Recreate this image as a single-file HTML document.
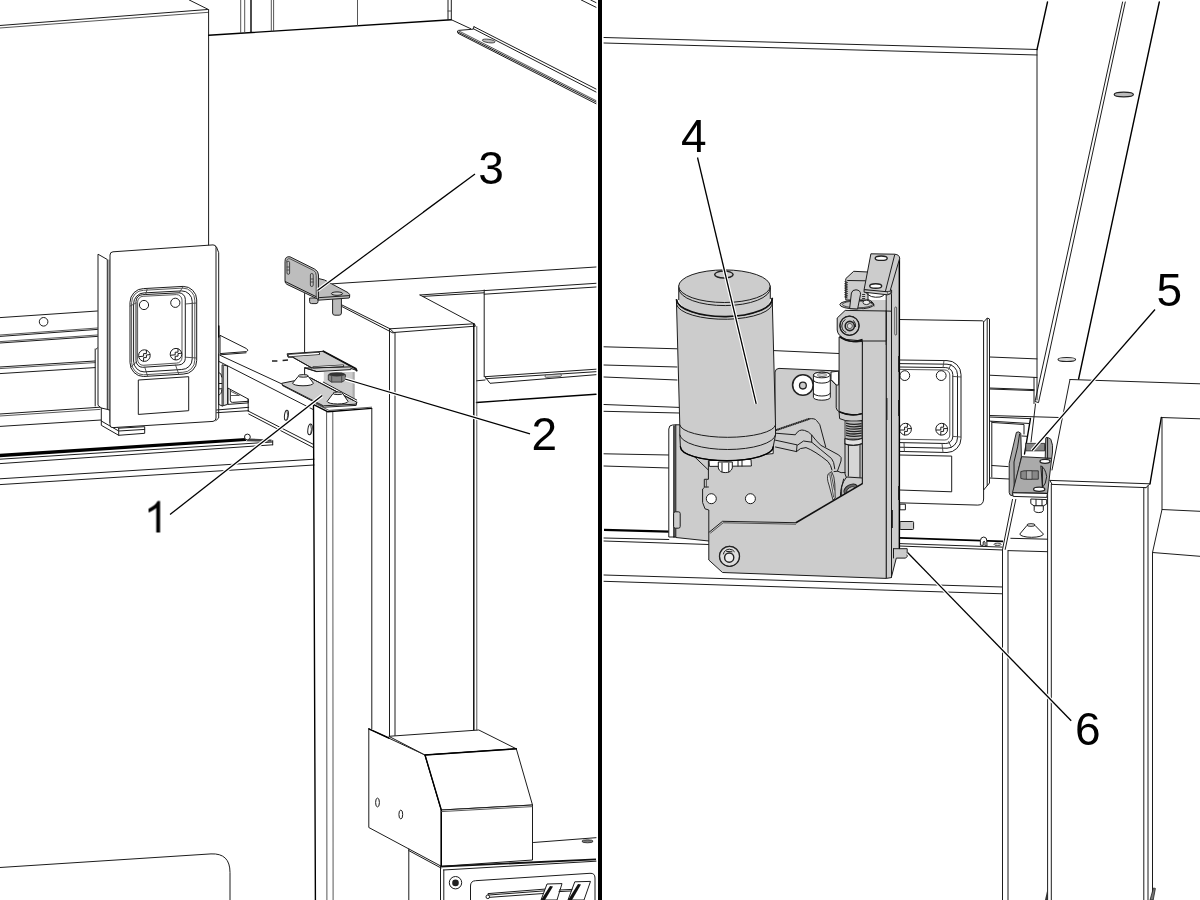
<!DOCTYPE html>
<html>
<head>
<meta charset="utf-8">
<title>Diagram</title>
<style>
html,body{margin:0;padding:0;background:#fff;}
body{width:1200px;height:900px;overflow:hidden;font-family:"Liberation Sans",sans-serif;}
svg{display:block;}
.l{stroke:#1c1c1c;stroke-width:1;fill:none;stroke-linecap:round;stroke-linejoin:round;}
.t{stroke:#444;stroke-width:.9;fill:none;stroke-linecap:round;stroke-linejoin:round;}
.k{stroke:#000;stroke-width:1.4;fill:none;stroke-linecap:round;stroke-linejoin:round;}
.w{fill:#fff;stroke:#1c1c1c;stroke-width:1;stroke-linejoin:round;}
.g{fill:#ccc;stroke:#1c1c1c;stroke-width:1;stroke-linejoin:round;}
.d{fill:#bbb;stroke:#222;stroke-width:1;stroke-linejoin:round;}
.ld{stroke:#000;stroke-width:1.3;fill:none;}
text{font-family:"Liberation Sans",sans-serif;font-size:46px;fill:#000;}
</style>
</head>
<body>
<svg width="1200" height="900" viewBox="0 0 1200 900">
<rect x="0" y="0" width="1200" height="900" fill="#fff"/>

<!-- ================= LEFT PANEL ================= -->
<g id="left">

<!-- big box top-left -->
<path class="l" d="M0 25.5 L207.5 9.5 M189.3 0 L208 9.3"/>
<path class="t" d="M0 28 L208.5 12.3"/>
<path class="l" d="M208.6 9.5 V245.5"/>
<!-- back wall line -->
<path class="k" d="M208.7 35.3 L451.3 19.7"/>
<path class="t" d="M240.7 0 V33 M244.7 0 V32.8 M271.3 0 V31 M273.6 0 V30.9 M357.5 0 V25.5"/>
<path class="k" d="M251 0 V32.4"/>
<path class="l" d="M448 0 V19.7 M451.3 0 V19.7"/>
<path class="t" d="M448 11 H451.3"/>
<!-- diagonal rail top right -->
<path class="l" d="M451.3 19.7 L470.7 28.7"/>
<path class="l" d="M474 26.7 L596 89 M473.3 28.7 L596 92 M474 26.7 L473.3 28.7"/>
<path class="l" d="M473 29.2 L458.5 30.4 Q456.8 30.8 457.6 32 L458 33.3 L596 103.7 M458 32 L596 102"/>
<path class="t" d="M459 31 L596 100.6"/>
<ellipse cx="488.7" cy="41" rx="6.5" ry="1.7" fill="#bbb" stroke="#333" stroke-width=".8" transform="rotate(8 488.7 41)"/>
<path class="l" d="M581.3 0 L596 7.3 M590.7 0 L596 2.6"/>
<!-- rear panel right -->
<path class="l" d="M332.5 283.8 L596 267"/>
<path class="l" d="M420 295 L483.5 290.6 M423 296.4 L484 292.8 M420 295 L474.5 324"/>
<path class="l" d="M484.2 290 V376.7 M484.2 290.6 L596 283.3 M484.2 294.2 L596 287"/>
<path class="l" d="M485 376.7 L596 369.2 M485 376.7 L490 383.3 L596 374.7 M485.8 378.7 L596 371.7"/>
<path class="l" d="M476.5 380.8 L485 380"/>
<path class="k" d="M476.5 402.5 L596 394.2"/>
<rect x="545" y="374.4" width="16.5" height="2.6" rx="1.3" fill="#ccc" stroke="#333" stroke-width=".7" transform="rotate(-3.8 553.3 375.8)"/>
<!-- tall column -->
<path class="l" d="M390 328.8 L473.8 323.8 Q475.5 324 475.2 326 M393.8 332.5 L475 326.2 M390 328.8 L393.8 332.5"/>
<path class="l" d="M389.5 329 V736 M395 332.5 V735.8"/>
<path class="k" d="M473.8 324 V730.2"/>
<path class="t" d="M476.8 326.5 V731"/>

<!-- left rails behind bracket -->
<path class="l" d="M0 317.6 L97.4 311"/>
<circle cx="43.6" cy="321.8" r="4.3" class="w"/>
<path class="t" d="M0 335 L97.4 328 M0 341.6 L97.4 335"/>
<path class="l" d="M0 336.4 L97.4 329.4 M0 343 L97.4 336.4"/>
<path class="l" d="M0 367 L95 361 M0 373.6 L95 367.6"/>
<path class="t" d="M0 368.6 L95 362.6"/>
<path class="l" d="M95.2 349 V406 M96.3 349 L97.4 348"/>
<path class="l" d="M0 414 L100 407.2 M0 426.4 L101 420"/>
<path class="t" d="M0 416 L100 409.4"/>
<!-- thick lower rail -->
<path d="M0 453.8 L246 438 L246 440.9 L0 457.3 Z" fill="#000"/>
<path class="l" d="M0 459.2 L272.7 442 M0 463.6 L272.7 444.8 M272.7 440.6 V444.8"/>
<path class="l" d="M0 478.8 L314 459.2 M0 484.6 L314 465"/>
<!-- left panel lower rounded shape -->
<path class="l" d="M0 867.5 L211 853.9 Q230 853 230 872.5 V900"/>
<!-- L-BG3 -->

<!-- bracket side flange -->
<path class="w" d="M98 254.2 L107.3 259.5 V410.7 L101.3 408 L98 405.3 Z"/>
<path class="w" d="M101.3 408 V425.3 L118.7 435.3 L144.7 433.3 V426.7 L118.7 428.2 L110 423 V410 Z"/>
<path class="l" d="M118.7 428.2 V435.3 M101.3 421 L118.7 431 L144.7 429.4"/>
<path class="t" d="M109 260 V410"/>
<!-- front plate -->
<path class="w" d="M110 255 Q110 252 113 251.8 L213 244.9 Q216 244.8 216 247.5 V418 Q216 421 213 421.4 L113 427.6 Q110 427.8 110 425 Z"/>
<path class="l" d="M216.5 247 L218.7 252.7 V418 L216 420.5"/>
<!-- window -->
<path class="l" d="M130 302 A13.5 13.5 0 0 1 143.5 288.6 L183.2 286.4 A13.5 13.5 0 0 1 196.7 299.9 V360.6 A13.5 13.5 0 0 1 183.2 374.1 L143.5 376.5 A13.5 13.5 0 0 1 130 363 Z"/>
<path class="t" d="M131.6 302.4 A12 12 0 0 1 143.6 290.3 L182.8 288.1 A12 12 0 0 1 194.8 300.1 V360.2 A12 12 0 0 1 182.8 372.3 L143.6 374.8 A12 12 0 0 1 131.6 362.8 Z"/>
<path class="l" d="M133.6 303.4 A10.5 10.5 0 0 1 144.1 292.9 L181.7 290.9 A10.5 10.5 0 0 1 192.2 301.4 V358.8 A10.5 10.5 0 0 1 181.7 369.5 L144.1 371.9 A10.5 10.5 0 0 1 133.6 361.4 Z"/>
<path class="l" d="M136 301.2 A6.5 6.5 0 0 1 142.5 294.7 L178.8 292.8 A6.5 6.5 0 0 1 185.3 299.3 V358.4 A6.5 6.5 0 0 1 178.8 364.9 L142.5 367.3 A6.5 6.5 0 0 1 136 360.8 Z"/>
<path class="t" d="M137.6 301.8 A5.5 5.5 0 0 1 143.1 296.3 L176.5 294.6 A5.5 5.5 0 0 1 182 300.1 V357.6 A5.5 5.5 0 0 1 176.5 363.1 L143.1 365.3 A5.5 5.5 0 0 1 137.6 359.8 Z"/>
<path class="t" d="M147.3 288.6 L145.6 294.6 M183.3 286.6 L179 292.8 M196.6 303 L185.3 304 M130.2 306 L136 303 M196.6 358 L185.3 357.2 M178.8 374.2 L175.5 365 M147.6 376.2 L144.8 367.2 M130.8 367 L136.4 362"/>
<circle cx="144" cy="305" r="4.6" class="w"/>
<circle cx="175.3" cy="302.8" r="4.6" class="w"/>
<g id="scrA">
<circle cx="144.4" cy="355.6" r="5.8" class="w"/>
<path class="l" d="M139.4 356.6 L143.6 356.2 V353.6 H146.4 V350.4 M149.8 354.6 L146.4 355 V357.6 H143.6 V361"/>
</g>
<g>
<circle cx="176" cy="354.2" r="5.8" class="w"/>
<path class="l" d="M171 355.2 L175.2 354.8 V352.2 H178 V349 M181.4 353.2 L178 353.6 V356.2 H175.2 V359.6"/>
</g>
<!-- label rect -->
<path class="l" d="M138.7 380 L188.7 376.7 V410.7 L138.7 414.4 Z"/>
<!-- L-BRACKET2 -->

<!-- tab flange at right of bracket -->
<path class="w" d="M220 335.3 L246.5 348.6 Q249.3 350.4 246.5 351.6 L220 353.6 Z"/>
<path class="l" d="M220 354.8 L246 352.8"/>
<path class="k" d="M218.8 326 V337"/>
<!-- left vertical rails between bracket & beam -->
<path class="l" d="M218.7 354 V404.4"/>
<path d="M222.1 364.8 L227.6 366 V404.4 L222.1 406 Z" fill="#e4e4e4" stroke="#1c1c1c" stroke-width="1"/>
<path class="t" d="M223.4 366 V405"/>
<path class="l" d="M218.8 372.4 Q221.6 373 221.8 377 M218.8 383.5 H221.8 M218.8 388.8 H221.8 M218.8 395 Q221.6 394.6 221.8 390 M218.8 404.4 L222.1 406"/>
<path class="l" d="M216.7 410 L248.7 407.3 M216.7 412.7 L248.7 410.7"/>
<!-- small angle bracket -->
<path class="w" d="M228 388.1 L248.2 399 V402.9 L228 404.4 Z"/>
<path class="l" d="M248.2 399 V411.4 M230.3 389.7 V400.3 Q230.4 402.6 232.6 402.4 L248.2 401.3"/>
<path class="t" d="M231 395.5 H239 M231 391.4 L239 395.4"/>
<!-- beam -->
<path class="l" d="M220 355.3 L282 384 M218.7 361.3 L312.7 409.3 M248.7 411.3 L312.7 444 M248.7 414 L312.7 447.3"/>
<ellipse cx="286.4" cy="415.3" rx="1.9" ry="5" class="w" transform="rotate(8 286.4 415.3)"/>
<ellipse cx="310" cy="429.3" rx="2.1" ry="5.4" class="w" transform="rotate(8 310 429.3)"/>
<path class="t" d="M287 411 Q288.6 415 287 420 M310.6 424.6 Q312.4 429 310.6 434.4"/>
<!-- rail end bolt -->
<circle cx="247.4" cy="437" r="2.9" class="w"/>
<path d="M249 438.4 L271.5 439.6 L271.8 441.8 L246 441.2 Z" fill="#444"/>
<!-- small column -->
<path class="k" d="M313.5 405.5 L315.4 900"/>
<path class="t" d="M326.6 411.6 L326.9 900 M332.8 411.4 L333.1 900"/>
<path class="k" d="M314.2 404.8 L327.5 411.7 L371.6 408.4"/>
<path class="t" d="M316 404 L329 410.4 L371.6 407.2"/>
<!-- vertical guide line -->
<path class="l" d="M304.6 293.5 V352.6 M304.6 367.6 V375"/>
<!-- dashes -->
<path d="M272 361 H277.4 M282.6 360.5 L288 360" stroke="#222" stroke-width="1.5" fill="none"/>
<!-- plate 1 -->
<path class="g" d="M281.7 383.3 L310 377.6 L356.8 402.2 L355.8 404.2 L323.4 405.8 L282.5 385 Z"/>
<path class="l" d="M282.5 385.6 L324.2 407.2 L356.2 405.4 L356.8 402.2"/>
<!-- vertical tab behind nut -->
<path d="M323.8 372.1 H354.6 V398.5 L323.8 381.8 Z" fill="#ccc"/>
<path d="M352.6 372.1 H354.6 V398.5 L352.6 397.4 Z" fill="#aaa"/>
<path class="l" d="M323.3 382.1 L356.7 400 M311.5 378.4 L353.4 400.4"/>
<!-- nut -->
<path d="M328.3 375 L331.7 373.3 L341.7 373 L345.4 374.6 V380 L341.7 382.1 H331.7 L328.3 380 Z" fill="#888" stroke="#222" stroke-width=".8"/>
<ellipse cx="336.8" cy="374.4" rx="8.4" ry="2" fill="#333"/>
<path class="t" d="M331.7 375.6 V382 M341.7 375.6 V382"/>
<!-- cones -->
<path class="w" d="M298.4 376.2 L292.6 383.2 A10.4 2.6 0 0 0 313.4 383.2 L308.2 376.2 Z"/>
<ellipse cx="303.3" cy="375.9" rx="4.9" ry="1.3" fill="#ddd" stroke="#222" stroke-width="1"/>
<path class="w" d="M333 393.6 L327.2 401.4 A10.4 2.6 0 0 0 348 401.4 L342.8 393.6 Z"/>
<ellipse cx="337.9" cy="393.3" rx="4.9" ry="1.3" fill="#ddd" stroke="#222" stroke-width="1"/>
<!-- upper slotted plate -->
<path class="g" d="M287.1 353.8 L323.3 351.3 L355.8 368.7 L356.6 370.4 L350.8 368.4 L350.8 369.6 L316.7 371.6 L305 367.9 L311.7 367.9 L292.9 357.3 L288 357.2 Z"/>
<path d="M323.3 351.3 L355.8 368.7 L356.7 370.6" stroke="#111" stroke-width="1.8" fill="none" stroke-linecap="round"/>
<path d="M289.2 355.5 L318.6 353.6" stroke="#222" stroke-width="3" stroke-linecap="round" fill="none"/>
<path d="M289.4 355.5 L318.4 353.6" stroke="#fff" stroke-width="1.5" stroke-linecap="round" fill="none"/>
<path d="M313.6 367.4 L343 365.7" stroke="#222" stroke-width="2.4" stroke-linecap="round" fill="none"/>
<path d="M313.8 367.4 L342.8 365.7" stroke="#fff" stroke-width=".9" stroke-linecap="round" fill="none"/>
<path class="l" d="M292.9 357.3 L311.7 367.9 L350.8 366.9 M305.2 368 L316.7 371.6"/>
<!-- bracket 3 -->
<g id="br3">
<path class="d" d="M309.6 298 H318 V301.6 Q318 303.6 316 303.6 H311.6 Q309.6 303.6 309.6 301.6 Z" />
<path class="d" d="M332.6 298 H341.4 V313 Q341.4 315.2 339.2 315.2 H334.8 Q332.6 315.2 332.6 313 Z"/>
<path d="M318.5 278.5 L324.5 280 L348 292.6 Q350.6 294.4 349.6 297 L349.2 298 L318 300.2 Z" fill="#bdbdbd" stroke="#222" stroke-width="1"/>
<path class="l" d="M319.5 297.6 L349.4 295.6"/>
<ellipse cx="337" cy="293.6" rx="5.6" ry="1.7" fill="#d4d4d4" stroke="#222" stroke-width="1"/>
<path d="M285 261.5 Q285 256 290 256.8 L314.5 269 Q318.5 271 318.5 275 V299.5 L315.5 298 L287 284.4 Q285 283.4 285 281 Z" fill="#bdbdbd" stroke="#222" stroke-width="1"/>
<path class="t" d="M286.6 262 Q286.6 258 290 258.8 L313.4 270.4 Q316.2 272 316.2 275.4 V298.2"/>
<path class="l" d="M285.4 281.6 L316 296.6"/>
<rect x="287" y="261.3" width="2.6" height="13" rx="1.3" fill="#c4c4c4" stroke="#222" stroke-width=".8"/>
<rect x="310.4" y="273.5" width="2.8" height="13" rx="1.4" fill="#c4c4c4" stroke="#222" stroke-width=".8"/>
<path class="t" d="M287 267 H289.6 M310.4 279 H313.2 M310.4 282 H313.2 M287 270 H289.6"/>
</g>
<path class="l" d="M342 305 L390 328.8 M342 306.6 L393 333"/>
<!-- L-PARTS2 -->

<!-- far-left verticals -->

<!-- box -->
<path class="l" d="M371.8 408.6 V728.6"/>
<path class="w" d="M368.8 728.8 L425 755 L441.3 810 V866.3 L368.8 827.5 Z"/>
<path class="w" d="M388.8 736.3 L478.8 730 L516.3 748.8 L425 755 Z"/>
<path class="w" d="M425 755 L516.3 748.8 L532.5 805 L441.3 810 Z"/>
<path class="w" d="M441.3 810 L532.5 805 V860 L441.3 866.3 Z"/>
<path class="k" d="M368.8 728.8 L388.8 738 M425 755 L516.3 748.8 M425 755 L441.3 810 V866"/>
<path class="t" d="M441.3 811.6 L532.5 806.6"/>
<ellipse cx="377.5" cy="802.5" rx="1.9" ry="4.4" class="w"/>
<ellipse cx="400.8" cy="814.5" rx="1.9" ry="4.4" class="w"/>
<path class="l" d="M408.8 849 V900 M408.8 850.6 L441 868"/>
<path class="l" d="M533.5 842.5 L596 837.7"/>
<ellipse cx="587.5" cy="841.3" rx="5.6" ry="1.5" fill="#777" stroke="#222" stroke-width=".8"/>
<path d="M440.5 866.6 L596 859.4" stroke="#111" stroke-width="1.9" fill="none"/>
<path class="l" d="M443.5 870 L596 861.2"/>
<path class="l" d="M440.5 866 V900 M443.8 870 V900"/>
<circle cx="455.5" cy="882.7" r="6.2" class="w"/>
<circle cx="455.5" cy="882.9" r="3.3" fill="#222"/>
<path class="l" d="M470.5 900 V886 Q470.5 881 475.5 880.7 L590 873.3 Q595 873 595 878 V900"/>
<!-- logo bars -->
<path class="w" d="M488 893.6 L546 889 L545 893.4 L488.6 897.4 Z"/>
<path class="l" d="M489 895 L545.4 890.8"/>
<circle cx="487.8" cy="896.8" r="1.8" class="w"/>
<path class="w" d="M547 884 L562 883.6 L557 900 H541 Z"/>
<path d="M550 886 L541 900 H545 L553 886.4 Z" fill="#111"/>
<path class="w" d="M574.8 881.8 L590.5 881.4 L584 900 H568 Z"/>
<path d="M578 884 L568 900 H572 L581 884.4 Z" fill="#111"/>
<path class="l" d="M559.5 890 L572 889.4 M559 891.6 L571 891"/>

</g>

<!-- ================= RIGHT PANEL ================= -->
<g id="right">

<!-- top wall lines -->
<path class="l" d="M604 37.5 L1037 49.5 M604 43 L1037 55"/>
<path class="l" d="M1037 50 V400"/>
<path class="k" d="M1037 49.5 L1047.5 2"/>
<path class="l" d="M1122.6 2 L1035 401.5 L1038.5 402.6 L1125.3 2 M1035.5 404 L1031 442"/>
<path class="k" d="M1030.5 418.5 L1024.5 454"/>
<path class="k" d="M1159.3 2 L1078.6 379"/>
<ellipse cx="1123.8" cy="94.5" rx="9.6" ry="2.3" fill="#bbb" stroke="#222" stroke-width="1.2"/>
<ellipse cx="1066.8" cy="359.5" rx="8.8" ry="2" fill="#ddd" stroke="#222" stroke-width="1.1"/>
<!-- right column & boxes -->
<path class="l" d="M1070 379.5 L1200 383.8 M1070 379.5 L1052 470"/>
<path class="l" d="M1161.3 417.5 L1200 418.8"/>
<path class="k" d="M1161.3 417.5 L1150 483.8"/>
<path class="l" d="M1162 418 V509.5 L1200 511.3 M1162 509.5 L1152.5 552.5 L1200 556.3 M1152.5 552.5 V900"/>
<path class="l" d="M1050 480.4 L1150 483.8 M1052 484.4 L1146 487.6 M1150 483.8 L1146 487.6 M1050 480.4 L1052 484.4"/>
<path class="l" d="M1047.6 483 V900 M1051.3 484.4 V900 M1143.8 487.6 V900 M1148 486 V900"/>
<!-- rails behind motor -->
<path class="l" d="M604 346.8 L677 348.8 M604 365 L677 367 M604 377 L677 380 M604 404.5 L679 407.4 M604 411.3 L679 413"/>
<path class="l" d="M604 453.8 L668.8 455 M604 466 L668.8 468"/>
<path d="M604 528.8 L668.8 530.6 V532.8 L604 531 Z" fill="#000"/>
<path class="l" d="M604 538 L668.8 539.5 M604 541 L708.5 544.5"/>
<path class="l" d="M604 575 L1002.5 587 M604 581.3 L1002.5 593.8"/>
<!-- white band right of motor -->
<path class="l" d="M774 350.6 L839 353.5"/>
<!-- back plate (white, with window) -->
<path class="w" d="M899.5 319.5 L982.5 320.8 Q983.6 321 983.6 322 V499 Q983.4 505.2 977.8 505.1 L899.5 502.8 Z"/>
<path class="w" d="M983.6 322 L987.4 318 L989.5 319 V483 L983.6 490 Z"/>
<path class="l" d="M987.2 318.4 V485.6"/>
<!-- window right -->
<path class="l" d="M899.5 360 L947 360.6 A14 14 0 0 1 961 374.6 V438.6 A14 14 0 0 1 947 452.5 L899.5 451.4"/>
<path class="l" d="M899.5 363.6 L947 364.2 A10.5 10.5 0 0 1 957.5 374.7 V437.8 A10.5 10.5 0 0 1 947 448.2 L899.5 447.2"/>
<path class="l" d="M899.5 367 L945.8 367.6 A7 7 0 0 1 952.8 374.6 V436.6 A7 7 0 0 1 945.8 443.5 L899.5 442.6"/>
<path class="t" d="M899.5 369.4 L944.8 370 A5 5 0 0 1 949.8 375 V435 A5 5 0 0 1 944.8 440 L899.5 439.2"/>
<path class="t" d="M944 360.6 L943 367.6 M960.8 377 L952.8 376.4 M960.6 437 L952.8 436.4 M943 452.4 L942 443.5 M904.4 451.4 L904 442.6 M951 364.4 L948.6 369.4 M951.4 447.4 L948.6 441.6"/>
<circle cx="904.8" cy="375.6" r="4.9" class="w"/>
<circle cx="941.2" cy="375.6" r="4.9" class="w"/>
<g><circle cx="905.5" cy="429.2" r="5.9" class="w"/><path class="l" d="M900 430 H904.6 V427.2 H907.4 V423.6 M911.2 428.6 H907.4 V431.4 H904.6 V435"/></g>
<g><circle cx="941.7" cy="429.2" r="5.9" class="w"/><path class="l" d="M936.2 430 H940.8 V427.2 H943.6 V423.6 M947.4 428.6 H943.6 V431.4 H940.8 V435"/></g>
<path class="l" d="M899.5 455 L951.7 456.1 V491.8 L899.5 490"/>
<!-- strips between flange and wall -->
<path class="l" d="M989.5 357 L1037 358.9 M989.5 375.2 L1037 377.5 M989.5 388 L1034 389.6 M989.5 389 L1034 390.6 M1034 377.4 V403.5"/>
<path class="l" d="M989.5 415.5 L1059 417.5 M989.5 417 L1030 418.6 M989.5 421.1 L1029.5 423.5 M991.8 421.4 V477.1 M989.5 478 L1009 479 M991.8 465.5 L1008.1 466.6"/>
<path class="l" d="M992.5 422.5 L1024 424.5 V434 M1022 436 L1027 436.3"/>
<!-- small shapes below back plate -->
<rect x="899.8" y="504.2" width="5.6" height="5.6" class="w"/>
<rect x="899.8" y="521.5" width="13.8" height="8" rx="1" class="g"/>
<!-- thick rail right -->
<path d="M899.5 537 L1003 540.4 L1003 542.2 L899.5 538.8 Z" fill="#000"/>
<path class="l" d="M899.5 543.6 L1002.3 547.1 M899.5 546 L1002.5 550"/>
<path class="w" d="M980.4 545.2 V540.6 Q980.6 537 983.8 537 Q987 537.2 986.8 540.8 L987 546 L985 545.8 V542 Q984.4 540.6 983.2 542 V545.4 Z"/>
<ellipse cx="997.6" cy="544.3" rx="3.6" ry="1.2" fill="#ddd" stroke="#222" stroke-width=".8"/>
<!-- left column -->
<path class="l" d="M1002.5 550 V900 M1008 551 V900"/>
<path class="l" d="M1015.8 499.4 L1005.2 549.4 M1012.5 499.4 L1002.5 549.6"/>
<path class="l" d="M1010.8 538.3 L1047.5 539.2 M1008 550.6 L1047.5 551.7"/>
<!-- cone right -->
<path class="w" d="M1027 525.4 L1019.8 534 A11.8 3.3 0 0 0 1043.4 534 L1035 525.4 Z"/>
<ellipse cx="1031" cy="525" rx="4.1" ry="1.3" fill="#eee" stroke="#222" stroke-width="1"/>
<path d="M1047.5 889 L1045 900 H1047.5 Z" fill="#333"/>
<path d="M1153.4 888 L1155.4 888.4 L1153.2 900 H1150 Z" fill="#777" stroke="#222" stroke-width=".8"/>
<!-- R-BG2 -->

<!-- left flange strip -->
<path class="w" d="M668.8 537 V429 Q669 425 672.5 425 L676 424.8 V537 Z"/>
<path class="k" d="M674 426 V537"/>
<!-- back plate -->
<path class="g" d="M675.8 424.8 V537.5 L708.8 541 L870 541 V372.4 L839 371 L779 368.4 Q775.4 368.6 775 372 V424.8 Z"/>
<rect x="673.6" y="511.8" width="6.6" height="16.4" rx="1.8" class="g"/>
<!-- vertical plate (front + side) -->
<path d="M862.4 300 H886.2 V578.4 L862.4 577.4 Z" fill="#ccc"/>
<path class="g" d="M891.5 257.8 L899.4 258 V548.7 L907.2 548.7 V556.4 L905.6 558.1 H896.3 L891.3 577.6 L886.2 578.4 V294.5 Z"/>
<path class="l" d="M891.5 294.5 V577.4 M893.5 548.7 V558 M899.4 548.7 H893.5"/>
<path class="k" d="M899.4 258 V548"/>
<rect x="894.8" y="307" width="1.8" height="28" rx=".9" fill="#eee" stroke="#222" stroke-width=".7"/>
<path d="M886.6 398 V420 M899 356 V372 M899 400 V416 M899 486 V500 M892 510 V528" stroke="#111" stroke-width="1.6" fill="none"/>
<!-- R-PLATE2 -->

<!-- threaded block behind -->
<path class="g" d="M853.7 271.3 L868 272 L868 300 L845.8 300 V278.6 Z"/>
<path class="l" d="M847.6 280.5 L866 280.8"/>
<path d="M844.6 281.5 L847.6 282.6 L844.6 283.7 L847.6 284.8 L844.6 285.9 L847.6 287.0 L844.6 288.1 L847.6 289.2 L844.6 290.3 L847.6 291.4 L844.6 292.5 L847.6 293.6 L844.6 294.7 L847.6 295.8 L844.6 296.9 L847.6 298.0" stroke="#222" stroke-width=".9" fill="none"/>
<path d="M863.6 294 V303" stroke="#333" stroke-width="3" stroke-dasharray="1 1" fill="none"/>
<!-- ring under -->
<ellipse cx="856.8" cy="304.6" rx="17" ry="4.4" class="g"/>
<ellipse cx="857.4" cy="304.4" rx="15" ry="3.4" fill="none" stroke="#222" stroke-width=".8"/>
<ellipse cx="866.4" cy="302.4" rx="3.4" ry="2.2" fill="#eee" stroke="#222" stroke-width=".9"/>
<path class="l" d="M868 299.6 Q873.6 301 874 306"/>
<!-- finger -->
<path class="g" d="M849.6 308.6 L851.4 293 Q852.4 289.6 856 289.8 Q860.8 290.2 860.5 294.4 L857.6 309 Z"/>
<!-- tilted top plate -->
<path class="g" d="M864.1 289.6 V292.2 L887.4 294.8 L891.6 293.4 V290 Z"/>
<path class="g" d="M870.9 253.8 L894.6 254.2 Q899.8 254.6 899.6 258.6 L889.8 292 L864.1 289.6 Z"/>
<path class="l" d="M894.7 254.8 L885.4 291.4"/>
<path d="M887.6 294.6 L891.4 292.2 L888 291.2 Z" fill="#fff" stroke="#222" stroke-width=".7"/>
<ellipse cx="881.2" cy="258.2" rx="6" ry="2.2" fill="#fff" stroke="#222" stroke-width="1.4"/>
<ellipse cx="875.7" cy="286" rx="6" ry="2.3" fill="#fff" stroke="#222" stroke-width="1.4"/>
<path class="l" d="M866 292.6 Q870 298.4 880 297 Q884 296 884.6 294.4"/>
<!-- clevis block -->
<path class="g" d="M837.2 318 L845.2 310.4 L886.2 311 V341 L862.9 341 L846 339.4 Q837.6 336 837.2 330 Z"/>
<path class="l" d="M886.2 311 L891.5 311.2"/>
<circle cx="849.5" cy="325.7" r="9.6" class="g"/>
<circle cx="849.5" cy="325.7" r="9.6" fill="none" stroke="#222" stroke-width="1.3"/>
<path d="M845 319.6 Q841.6 322 841.8 326 Q842 330.6 846 332.4 M853.6 320.6 Q856 323 855.6 326.6" class="l"/>
<circle cx="849.8" cy="326" r="4.6" fill="#ccc" stroke="#222" stroke-width="1.6"/>
<circle cx="849.8" cy="326" r="2.6" fill="#ddd" stroke="#222" stroke-width=".7"/>
<!-- piston cylinder -->
<path class="g" d="M839.1 337 Q850 343.6 862.4 341.4 V413.6 Q850.8 417 839.1 411.8 Z"/>
<path d="M839.6 336.4 Q850 344.4 862.6 339.6" stroke="#111" stroke-width="1.8" fill="none"/>
<path class="g" d="M839.1 411.8 Q850.8 417 862.4 413.6 V420.4 Q851 423.4 839.6 418.6 Z"/>
<path d="M839.1 411.8 Q850.8 417 862.4 413.6" stroke="#111" stroke-width="1.5" fill="none"/>
<!-- threaded rod -->
<rect x="845" y="421" width="17" height="18" fill="#bbb" stroke="#222" stroke-width=".8"/>
<path d="M846 423.2 Q853 425.4 861.6 423.6 M846 425.6 Q853 427.8 861.6 426 M846 428 Q853 430.2 861.6 428.4 M846 430.4 Q853 432.6 861.6 430.8 M846 432.8 Q853 435 861.6 433.2 M846 435.2 Q853 437.4 861.6 435.6" stroke="#222" stroke-width="1.3" fill="none"/>
<!-- coupling nut -->
<path class="g" d="M845 438.6 Q853 441.6 862.4 438.4 V478 L858 484 L846.6 478 L845 474 Z"/>
<path d="M845 438.6 Q853 441.6 862.4 438.4 V443.6 Q853 447 845 444 Z" fill="#e2e2e2" stroke="#1c1c1c" stroke-width="1"/>
<path d="M848.8 446 H859.6 V476 H848.8 Z" fill="#d6d6d6"/>
<path class="l" d="M845 444 Q853 447 862.4 443.6 M848.4 445.4 V476 M860 444.6 V478"/>
<!-- rod end -->
<path class="g" d="M846.6 477 Q840 485 840.4 497 L862.4 483.8 L862.4 478 Z"/>
<ellipse cx="850.6" cy="489.4" rx="7.4" ry="4.6" fill="#666" stroke="#222" stroke-width="1" transform="rotate(-30 850.6 489.4)"/>
<ellipse cx="850.6" cy="489.8" rx="4.4" ry="2.4" fill="#bbb" stroke="#222" stroke-width=".8" transform="rotate(-30 850.6 489.8)"/>
<path class="l" d="M843.6 479 Q840.6 487 841.6 496"/>

<!-- washer & spacer -->
<path class="w" d="M836.2 385 L831 379.6 V372 L838.6 371.2 V385 Z" stroke="none"/>
<path class="l" d="M831 379.8 L836.2 385 V407.8 Q836.6 410.6 839.1 411.8"/>
<circle cx="802.9" cy="385" r="10.3" fill="#fff" stroke="#222" stroke-width="1.6"/>
<circle cx="802.9" cy="385.6" r="3.4" fill="#ccc" stroke="#222" stroke-width="1.3"/>
<path class="w" d="M813.4 375 A8.4 2.8 0 0 1 830.3 375 V397.4 A8.4 2.8 0 0 1 813.4 397.4 Z"/>
<ellipse cx="821.8" cy="375" rx="8.4" ry="2.8" class="w"/>
<ellipse cx="822" cy="375" rx="4.6" ry="1.5" fill="#ddd" stroke="#444" stroke-width=".8"/>
<path class="l" d="M813.4 380.3 A8.4 2.8 0 0 0 830.3 380.3 M813.4 393.2 A8.4 2.8 0 0 0 830.3 393.2"/>
<!-- inner plate edge -->
<path class="l" d="M695 457.2 L708.4 470 M708.4 460.7 V479.3 H704.3 V487 H708.4 M704.3 487.5 L702.6 489 V502.5 L705 508.8 L708.8 510 V532.5"/>
<path class="t" d="M706.4 479.3 V487"/>
<!-- plate holes -->
<circle cx="711.3" cy="498.7" r="5" class="w"/>
<circle cx="750.4" cy="498.7" r="5" class="w"/>
<!-- arm / linkage -->
<path d="M776 430.2 L809.3 418.8" stroke="#555" stroke-width="1.9" fill="none"/>
<path d="M776 430.2 L809.3 418.8" stroke="#111" stroke-width="1.9" stroke-dasharray=".7 1.1" fill="none"/>
<path class="l" d="M809.3 418.8 Q815 418 816.6 420.6 Q818.6 423 819.8 424.7 L825.7 446.8"/>
<path class="l" d="M775.5 433.2 L795.3 434.8 Q799 428.6 804.5 430.4 Q809 431.6 811.7 435 Q816 441 821 445.4 L838.8 455 Q842.4 457.2 841 461 L837.4 471.2 L834 471.6"/>
<path class="l" d="M775.5 440.2 L797.7 445 L803.5 441 L811.7 442.2 Q820 449 831.5 458.5 Q834 461 834.8 468.8"/>
<path class="l" d="M775.5 447 L796.5 451.6 L800.4 448.6 L806 447.6 Q815 451 828 461.6 Q831 465 832 470"/>
<path class="l" d="M797 445.4 L796.5 451.6 M811.7 435 L811.7 442.2 M837.4 471.2 Q841 473.6 845 472.6"/>
<path d="M828.2 474 Q826.4 478 829 485 L833 500 L835.2 498 L834.8 484 Q834.4 476 831.6 471.6 Z" fill="#ddd" stroke="#222" stroke-width=".9"/>
<path class="t" d="M829.8 474.6 L833.6 497 M831 473 L834.4 490"/>
<!-- under-motor parts -->
<path class="w" d="M709 460.6 L751 459.4 L751.4 466 L709.4 466.4 Z"/>
<path class="w" d="M718.3 462 H732.3 V468 Q731 472.6 725.3 472.6 Q719.6 472.6 718.3 468 Z"/>
<path class="l" d="M722 463 V472 M728.8 463 V472 M738 460 V466 M742 460 V466"/>
<path class="w" d="M770 446 L773.2 446.4 V453.6 L765 454.4 Z"/>
<!-- R motor block -->
<path class="g" d="M676.4 299.3 A47.9 18 0 0 0 772.2 297.9 L775.5 425.1 L775.5 435 L773.2 446.7 A46.4 14 0 0 1 680.4 446.7 L679.8 435 L679.8 425.1 Z"/>
<path class="l" d="M679.8 425.1 A47.9 12.8 0 0 0 775.5 425.1"/>
<path class="l" d="M679.8 435 A47.9 15.2 0 0 0 775.5 435"/>
<path class="k" d="M680.4 446.7 A46.4 14 0 0 0 773.2 446.7"/>
<path class="l" d="M676.5 304.5 A47.9 15.8 0 0 0 772.3 302.4"/>
<path d="M678.75 286 V300 A45.8 17.6 0 0 0 770.3 299 V286 Z" fill="#ccc" stroke="none"/>
<path class="l" d="M678.75 286 V299.6 M770.3 286 V298.6"/>
<path d="M676.4 299.3 A47.9 18 0 0 0 772.2 297.9" stroke="#111" stroke-width="1.7" fill="none"/>
<ellipse cx="724.4" cy="286.2" rx="45.7" ry="16.3" class="g"/>
<path class="l" d="M678.75 288.9 A45.75 17 0 0 0 770.25 288.3"/>
<ellipse cx="723.9" cy="274.6" rx="9.2" ry="3.5" fill="#ccc" stroke="#222" stroke-width="1.5"/>
<!-- R front plate -->
<path d="M722.5 521.3 L795.9 522.7 L862.4 483.6 V345 H886.2 V578.4 L722.5 572.5 L708.8 560 V532.5 Z" fill="#ccc"/>
<path class="l" d="M862.4 341 V483.6 M795.9 522.7 L722.5 521.3 L708.8 532.5 V560 L722.5 572.5 L886.2 578.4 V311"/>
<path d="M795.9 522.7 L862.4 483.6" stroke="#111" stroke-width="1.6" fill="none"/>
<path class="t" d="M710.6 533 L723.2 522.8 L795.6 524.2"/>
<circle cx="729.5" cy="556.3" r="10" class="g"/>
<circle cx="729.5" cy="556.3" r="10" fill="#ddd" stroke="#222" stroke-width="1.3"/>
<circle cx="729.2" cy="557.6" r="4.6" fill="#eee" stroke="#222" stroke-width="1.4"/>
<path class="l" d="M723.4 554 Q724.4 549.4 729.4 549.2 Q733 549.4 734.4 551.6 M726.6 551.4 L732 551.8"/>

<!-- hinge 5 -->
<g id="h5">
<path d="M1016.4 432.4 Q1018.5 431 1020.8 433.3 L1021.4 457 L1014.2 488.3 L1012.5 495.8 Q1009.2 495.6 1009.2 492.5 V463.3 Z" fill="#aaa" stroke="#222" stroke-width="1"/>
<path class="l" d="M1019.6 434 Q1018.4 446 1014 462 L1014.2 488.3"/>
<path d="M1021.7 456.7 L1051.7 458.3 L1047.5 493.3 L1012.5 492.5 Z" fill="#aaa" stroke="#222" stroke-width="1"/>
<path class="w" d="M1012.5 492.8 L1047.5 493.5 L1046.8 497.4 L1013.2 496.4 Z"/>
<path d="M1045.8 437.5 Q1049 437.4 1050.8 439.2 Q1053.4 445 1052.5 452 L1051.7 458.3 L1045.2 458 Z" fill="#aaa" stroke="#222" stroke-width="1"/>
<path class="l" d="M1047.6 438 V458"/>
<rect x="1025.8" y="443.3" width="18.6" height="7.6" fill="#888" stroke="#222" stroke-width=".8"/>
<path d="M1040.8 465.8 Q1045.4 468 1046.7 476.7 Q1046 484 1042.5 487.5 Z" fill="#aaa" stroke="#222" stroke-width="1"/>
<path class="l" d="M1042.4 467 V486.6"/>
<path d="M1020.8 471.6 L1024 470.8 H1038.3 V479.2 H1024 L1020.8 478.4 Z" fill="#888" stroke="#222" stroke-width=".8"/>
<path d="M1026.4 470.8 H1032 V479.2 H1026.4 Z" fill="#aaa" stroke="#222" stroke-width=".6"/>
<ellipse cx="1045" cy="461.3" rx="5" ry="2" fill="#fff" stroke="#222" stroke-width="1.3"/>
<ellipse cx="1039.2" cy="489.2" rx="5.6" ry="2.1" fill="#fff" stroke="#222" stroke-width="1.3"/>
<path class="w" d="M1030.8 499 L1046.7 499.6 V504 L1043.6 505.8 H1034 L1030.8 503.6 Z"/>
<path class="w" d="M1034.2 505.8 H1043.3 V510.6 Q1043 512.6 1038.8 512.6 Q1034.4 512.6 1034.2 510.6 Z"/>
<path class="l" d="M1036 499.4 V505.6 M1042 499.6 V505.6"/>
</g>
<!-- R-FRONT -->
</g>

<!-- divider -->
<rect x="598" y="0" width="4" height="900" fill="#000"/>

<!-- labels -->
<g id="labels" opacity="0.999">

<path d="M475 174 L317.5 290.4" stroke="#fff" stroke-width="3.6" fill="none"/>
<path class="ld" d="M475 174 L317.5 290.4"/>
<path d="M530 433.8 L345 379" stroke="#fff" stroke-width="3.6" fill="none"/>
<path class="ld" d="M530 433.8 L345 379"/>
<path d="M170 514.5 L322.2 395.5" stroke="#fff" stroke-width="3.6" fill="none"/>
<path class="ld" d="M170 514.5 L322.2 395.5"/>
<path d="M697.5 157.5 L756.2 403.8" stroke="#fff" stroke-width="3.6" fill="none"/>
<path class="ld" d="M697.5 157.5 L756.2 403.8"/>
<path d="M1155 309.5 L1032 450.6" stroke="#fff" stroke-width="3.6" fill="none"/>
<path class="ld" d="M1155 309.5 L1032 450.6"/>
<path d="M1071.2 720.8 L907.5 552.5" stroke="#fff" stroke-width="3.6" fill="none"/>
<path class="ld" d="M1071.2 720.8 L907.5 552.5"/>
<text x="478.2" y="184">3</text>
<text x="531.6" y="450">2</text>
<path transform="translate(143.77,532.5) scale(0.0214,-0.0214)" d="M763 0H583V1147Q518 1085 412.5 1023Q307 961 223 930V1104Q374 1175 487 1276Q600 1377 647 1472H763Z" fill="#000"/>
<text x="681" y="152">4</text>
<text x="1156.4" y="305.8">5</text>
<text x="1075" y="745">6</text>

</g>
</svg>
</body>
</html>
